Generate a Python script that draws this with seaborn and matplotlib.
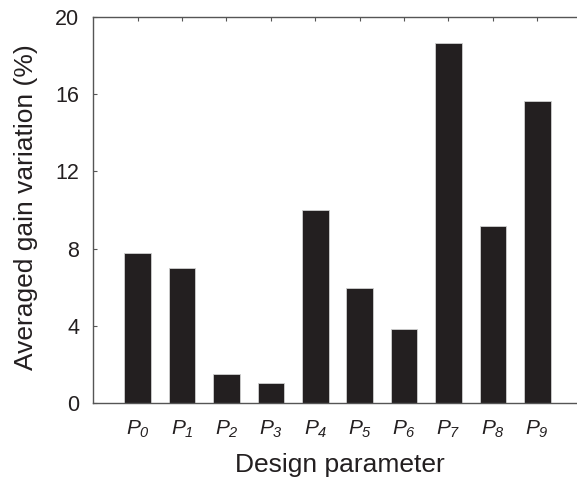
import matplotlib
matplotlib.use("Agg")
import matplotlib.pyplot as plt
import seaborn as sns
import pandas as pd

categories = ["P0", "P1", "P2", "P3", "P4", "P5", "P6", "P7", "P8", "P9"]
tick_labels = [r"$P_{%d}$" % i for i in range(10)]
values = [7.77, 7.0, 1.52, 1.02, 9.98, 5.98, 3.82, 18.65, 9.19, 15.66]
yticks = [0, 4, 8, 12, 16, 20]

sns.set_theme(style="ticks")
plt.rcParams["font.family"] = ["Liberation Sans", "DejaVu Sans"]
plt.rcParams["mathtext.fontset"] = "custom"
plt.rcParams["mathtext.rm"] = "Liberation Sans:italic"
plt.rcParams["mathtext.it"] = "Liberation Sans:italic"

df = pd.DataFrame({"param": categories, "gain": values})

fig = plt.figure(figsize=(5.77, 4.78), dpi=100)
ax = fig.add_axes([93.3 / 577, 75 / 478, 488.4 / 577, 386 / 478])
sns.barplot(data=df, x="param", y="gain", color="#231f20", saturation=1,
            width=0.6, edgecolor="#d0d0d0", linewidth=0.6, ax=ax)

ax.set_xlim(-1, 10)
ax.set_ylim(0, 20)
ax.set_yticks(yticks)
ax.set_yticklabels([str(v) for v in yticks], fontsize=15.5, color="#231f20")
ax.set_xticks(range(len(categories)))
ax.set_xticklabels(tick_labels, fontsize=15, color="#231f20")
ax.tick_params(axis="y", direction="in", length=3, width=0.8, color="#555555",
               right=True, pad=10)
ax.tick_params(axis="x", direction="in", length=3, width=0.8, color="#555555",
               top=True, pad=11)
for s in ax.spines.values():
    s.set_visible(True)
    s.set_color("#555555")
    s.set_linewidth(1.0)
ax.set_xlabel("Design parameter", fontsize=19, color="#231f20")
ax.set_ylabel("Averaged gain variation (%)", fontsize=19, color="#231f20")
ax.xaxis.set_label_coords((340 - 93.3) / 488.4, -(472 - 403) / 386)
ax.xaxis.label.set_va("baseline")
ax.yaxis.set_label_coords((38 - 93.3) / 488.4, (403 - 207) / 386)

fig.savefig("out.png", dpi=100)
